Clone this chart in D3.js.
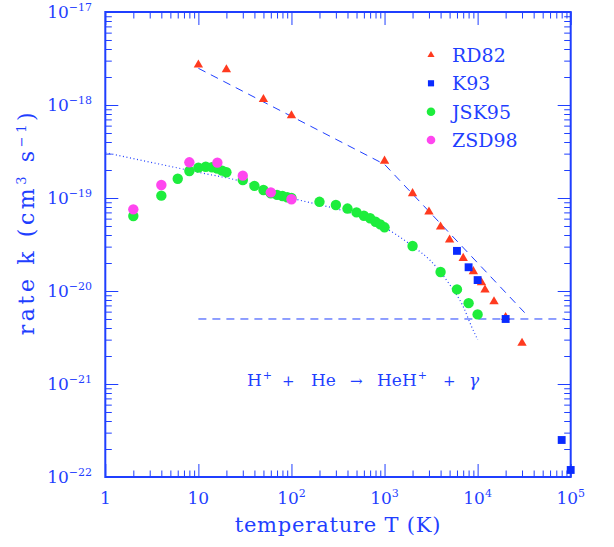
<!DOCTYPE html>
<html><head><meta charset="utf-8">
<script src="https://cdn.jsdelivr.net/npm/d3@7"></script>
<style>
body{margin:0;background:#fff}
svg{display:block}
text{font-family:"DejaVu Serif",serif;fill:#1f3fff}
</style>
</head><body>
<svg id="c" width="614" height="547"></svg>
<script>
// ---------- data ----------
const T_RD82 = [10,20,50,100,1000,2000,3000,4000,5000,7000,9000,11000,12000,15000,20000,30000];
const K_RD82 = [2.7e-18,2.4e-18,1.15e-18,7.7e-19,2.5e-19,1.12e-19,7.1e-20,4.9e-20,3.55e-20,2.25e-20,1.62e-20,1.23e-20,1.03e-20,7.7e-21,5.2e-21,2.75e-21];

const T_K93 = [6000,8000,10000,20000,80000,100000];
const K_K93 = [2.7e-20,1.8e-20,1.31e-20,5.0e-21,2.5e-22,1.19e-22];

const T_JSK95 = [2,4,6,8,10,12,14,16,18,20,30,40,50,60,70,80,90,100,200,300,400,500,600,700,800,900,1000,2000,4000,6000,8000,10000];
const K_JSK95 = [6.4e-20,1.06e-19,1.61e-19,1.95e-19,2.12e-19,2.17e-19,2.14e-19,2.07e-19,1.97e-19,1.89e-19,1.56e-19,1.35e-19,1.22e-19,1.12e-19,1.08e-19,1.05e-19,1.02e-19,1.0e-19,9.1e-20,8.4e-20,7.7e-20,7.0e-20,6.45e-20,6.05e-20,5.56e-20,5.2e-20,4.84e-20,3.05e-20,1.6e-20,1.04e-20,7.4e-21,5.6e-21];

const T_ZSD98 = [2,4,8,16,30,60,100];
const K_ZSD98 = [7.55e-20,1.38e-19,2.42e-19,2.4e-19,1.74e-19,1.15e-19,9.7e-20];

// fit curves
const T_fitDash = [10,1000,32000];
const K_fitDash = [2.48e-18,2.3e-19,5.85e-21];
const T_fitFlat = [10,87000];
const K_fitFlat = [5.0e-21,5.0e-21];
const T_fitDot = [1,10,30,100,280,500,970,2030,3070,5040,7000,8620,10000];
const K_fitDot = [3.07e-19,1.89e-19,1.5e-19,1.0e-19,7.8e-20,6.6e-20,4.9e-20,3.0e-20,2.15e-20,1.16e-20,6.8e-21,4.13e-21,3.0e-21];

const xTickVals = [1,10,100,1000,10000,100000];
const xTickBase = ["1","10","10","10","10","10"];
const xTickExp  = ["","","2","3","4","5"];
const yTickVals = [1e-17,1e-18,1e-19,1e-20,1e-21,1e-22];
const yTickBase = ["10","10","10","10","10","10"];
const yTickExp  = ["\u221217","\u221218","\u221219","\u221220","\u221221","\u221222"];

const legendNames = ["RD82","K93","JSK95","ZSD98"];

// ---------- styles ----------
const BLUE = "#1f3fff";
const RED = "#ff3a1f";
const SQ = "#0a2bff";
const GREEN = "#1ded3c";
const MAG = "#ff46ef";

const svg = d3.select("#c");
const L = 105.3, R = 570.7, TOP = 12, BOT = 477;
const x = d3.scaleLog().domain([1,1e5]).range([L,R]);
const y = d3.scaleLog().domain([1e-22,1e-17]).range([BOT,TOP]);

// ticks
const xAll = x.ticks().filter(v => v>=1 && v<=1e5);
const xMinor = xAll.filter(v => !xTickVals.includes(v));
const yAll = y.ticks();
const yMinor = yAll.filter(v => !yTickVals.some(m => Math.abs(m-v)/m < 1e-6));

function styleAxis(g){
  g.select(".domain").remove();
  g.selectAll("line").attr("stroke",BLUE).attr("stroke-width",1);
}
const MAJ = 13, MIN = 6.5;
[[xTickVals,MAJ],[xMinor,MIN]].forEach(([vals,len])=>{
  svg.append("g").attr("transform",`translate(0,${BOT})`)
    .call(d3.axisBottom(x).tickValues(vals).tickSize(-len).tickFormat("")).call(styleAxis);
  svg.append("g").attr("transform",`translate(0,${TOP})`)
    .call(d3.axisTop(x).tickValues(vals).tickSize(-len).tickFormat("")).call(styleAxis);
});
[[yTickVals,MAJ],[yMinor,MIN]].forEach(([vals,len])=>{
  svg.append("g").attr("transform",`translate(${L},0)`)
    .call(d3.axisLeft(y).tickValues(vals).tickSize(-len).tickFormat("")).call(styleAxis);
  svg.append("g").attr("transform",`translate(${R},0)`)
    .call(d3.axisRight(y).tickValues(vals).tickSize(-len).tickFormat("")).call(styleAxis);
});
svg.append("rect").attr("x",L).attr("y",TOP).attr("width",R-L).attr("height",BOT-TOP)
  .attr("fill","none").attr("stroke",BLUE).attr("stroke-width",2);

// tick labels
xTickVals.forEach((v,i)=>{
  const t = svg.append("text").attr("x",x(v)).attr("y",504).attr("text-anchor","middle").attr("font-size",17);
  t.append("tspan").text(xTickBase[i]);
  if (xTickExp[i]) t.append("tspan").attr("dy",-7).attr("font-size",11).text(xTickExp[i]);
});
yTickVals.forEach((v,i)=>{
  const t = svg.append("text").attr("x",92).attr("y",y(v)+6).attr("text-anchor","end").attr("font-size",17);
  t.append("tspan").text(yTickBase[i]);
  t.append("tspan").attr("dy",-7).attr("font-size",11).text(yTickExp[i]);
});

// axis titles
svg.append("text").attr("x",(L+R)/2).attr("y",532).attr("text-anchor","middle")
  .attr("font-size",21).attr("letter-spacing",0.8).text("temperature T (K)");
const yt = svg.append("text").attr("transform","translate(34,222) rotate(-90)")
  .attr("text-anchor","middle").attr("font-size",22).attr("letter-spacing",3.6);
yt.append("tspan").text("rate k (cm");
yt.append("tspan").attr("dy",-8).attr("font-size",13).text("3");
yt.append("tspan").attr("dy",8).text(" s");
yt.append("tspan").attr("dy",-8).attr("font-size",13).text("\u22121");
yt.append("tspan").attr("dy",8).text(")");

// fit lines
const line = d3.line().x(d=>x(d[0])).y(d=>y(d[1]));
const lineSmooth = d3.line().x(d=>x(d[0])).y(d=>y(d[1])).curve(d3.curveMonotoneX);
svg.append("path").datum(d3.zip(T_fitDash,K_fitDash)).attr("d",line)
  .attr("fill","none").attr("stroke",BLUE).attr("stroke-width",1).attr("stroke-dasharray","8,6");
svg.append("path").datum(d3.zip(T_fitFlat,K_fitFlat)).attr("d",line)
  .attr("fill","none").attr("stroke",BLUE).attr("stroke-width",1).attr("stroke-dasharray","8,6");
svg.append("path").datum(d3.zip(T_fitDot,K_fitDot)).attr("d",lineSmooth)
  .attr("fill","none").attr("stroke",BLUE).attr("stroke-width",1.2).attr("stroke-dasharray","1,2.6");

// markers
const tri = d3.symbol().type(d3.symbolTriangle).size(38);
const sq = d3.symbol().type(d3.symbolSquare).size(62);
svg.append("g").selectAll("path").data(d3.zip(T_RD82,K_RD82)).join("path")
  .attr("d",tri).attr("transform",d=>`translate(${x(d[0])},${y(d[1])})`).attr("fill",RED);
svg.append("g").selectAll("path").data(d3.zip(T_K93,K_K93)).join("path")
  .attr("d",sq).attr("transform",d=>`translate(${x(d[0])},${y(d[1])})`).attr("fill",SQ);
svg.append("g").selectAll("circle").data(d3.zip(T_JSK95,K_JSK95)).join("circle")
  .attr("cx",d=>x(d[0])).attr("cy",d=>y(d[1])).attr("r",5.2).attr("fill",GREEN);
svg.append("g").selectAll("circle").data(d3.zip(T_ZSD98,K_ZSD98)).join("circle")
  .attr("cx",d=>x(d[0])).attr("cy",d=>y(d[1])).attr("r",5.2).attr("fill",MAG);

// legend
const legY = [55,83.3,111.7,140];
const lg = svg.append("g");
lg.append("path").attr("d",d3.symbol().type(d3.symbolTriangle).size(22)).attr("transform",`translate(431,${legY[0]})`).attr("fill",RED);
lg.append("path").attr("d",d3.symbol().type(d3.symbolSquare).size(38)).attr("transform",`translate(431,${legY[1]})`).attr("fill",SQ);
lg.append("circle").attr("cx",431).attr("cy",legY[2]).attr("r",4.3).attr("fill",GREEN);
lg.append("circle").attr("cx",431).attr("cy",legY[3]).attr("r",4.3).attr("fill",MAG);
legendNames.forEach((n,i)=>{
  lg.append("text").attr("x",452).attr("y",legY[i]+7).attr("font-size",19).text(n);
});

// reaction label
const rx = svg.append("text").attr("y",386).attr("font-size",17);
rx.append("tspan").attr("x",247).text("H");
rx.append("tspan").attr("dx",1).attr("dy",-7).attr("font-size",11).text("+");
rx.append("tspan").attr("x",282).attr("dy",7).attr("font-size",15).text("+");
rx.append("tspan").attr("x",311).text("He");
rx.append("tspan").attr("x",350).attr("font-size",15).text("\u2192");
rx.append("tspan").attr("x",377).text("HeH");
rx.append("tspan").attr("dx",1).attr("dy",-7).attr("font-size",11).text("+");
rx.append("tspan").attr("x",443).attr("dy",7).attr("font-size",15).text("+");
rx.append("tspan").attr("x",469).attr("font-style","italic").text("\u03b3");
</script>
</body></html>
